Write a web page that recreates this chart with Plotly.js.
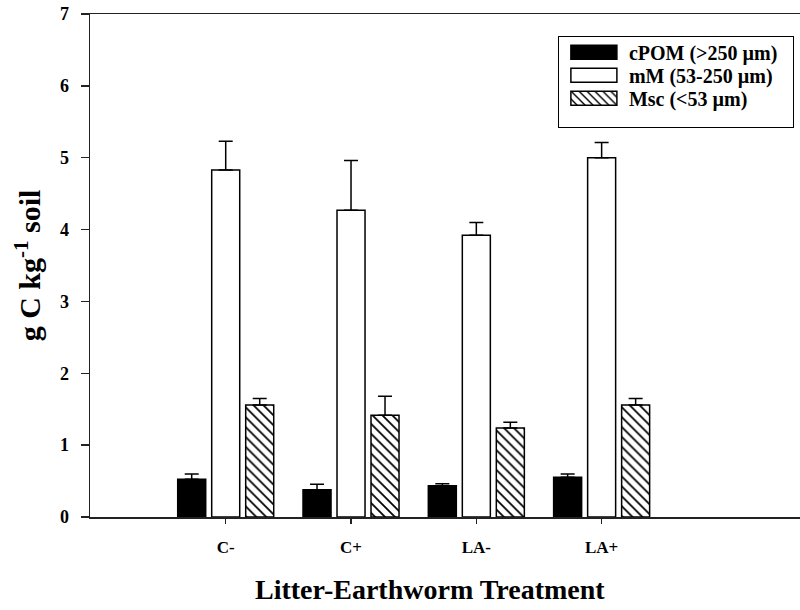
<!DOCTYPE html>
<html>
<head>
<meta charset="utf-8">
<script src="https://cdn.plot.ly/plotly-3.0.1.min.js"></script>
<style>html,body{margin:0;padding:0;background:#fff;}#chart{width:800px;height:610px;}</style>
</head>
<body>
<div id="chart"></div>
<script>
// Data
const treatments = ["C-", "C+", "LA-", "LA+"];
const seriesNames = ["cPOM (>250 µm)", "mM (53-250 µm)", "Msc (<53 µm)"];
const cPOM = [0.525, 0.38, 0.436, 0.552];
const cPOM_err = [0.075, 0.075, 0.028, 0.048];
const mM = [4.83, 4.27, 3.92, 5.00];
const mM_err = [0.40, 0.69, 0.18, 0.21];
const Msc = [1.56, 1.415, 1.24, 1.56];
const Msc_err = [0.09, 0.265, 0.08, 0.09];
const yTicks = [0, 1, 2, 3, 4, 5, 6, 7];

const FONT = "Liberation Serif, Times New Roman, serif";
const zeros = treatments.map(() => 0);

function errBar(arr) {
  return {type: 'data', symmetric: false, array: arr, arrayminus: zeros,
          color: '#000', thickness: 1.5, width: 7};
}

const traces = [
  {type: 'bar', name: seriesNames[0], x: treatments, y: cPOM,
   marker: {color: '#000', line: {color: '#000', width: 1.5}},
   error_y: errBar(cPOM_err)},
  {type: 'bar', name: seriesNames[1], x: treatments, y: mM,
   marker: {color: '#fff', line: {color: '#000', width: 1.5}},
   error_y: errBar(mM_err)},
  {type: 'bar', name: seriesNames[2], x: treatments, y: Msc,
   marker: {color: '#fff', line: {color: '#000', width: 1.5},
            pattern: {shape: '\\', size: 7, solidity: 0.25, fgcolor: '#000', bgcolor: '#fff'}},
   error_y: errBar(Msc_err)}
];

const layout = {
  width: 800, height: 610,
  margin: {l: 90, r: 0, t: 14, b: 93, pad: 0},
  paper_bgcolor: '#fff', plot_bgcolor: '#fff',
  font: {family: FONT, color: '#000'},
  barmode: 'group', bargap: 0.186, bargroupgap: 0.176,
  showlegend: true,
  legend: {x: 0.659, y: 0.956, xanchor: 'left', yanchor: 'top',
           bordercolor: '#000', borderwidth: 1, bgcolor: '#fff',
           font: {family: FONT, size: 20, color: '#000', weight: 'bold'},
           itemwidth: 60, tracegroupgap: 0},
  xaxis: {type: 'category', range: [-1.083, 4.583], showgrid: false, zeroline: false,
          showline: true, linecolor: '#222', linewidth: 1.5, mirror: true,
          ticks: 'outside', ticklen: 5, tickwidth: 1.5, tickcolor: '#222',
          tickfont: {family: FONT, size: 17, color: '#000', weight: 'bold'},
          ticklabelstandoff: 9},
  yaxis: {range: [0, 7], tickvals: yTicks, showgrid: false, zeroline: false,
          showline: true, linecolor: '#222', linewidth: 1.5,
          ticks: 'outside', ticklen: 8, tickwidth: 1.5, tickcolor: '#222',
          tickfont: {family: FONT, size: 18, color: '#000', weight: 'bold'},
          ticklabelstandoff: 8,
          title: {text: 'g C kg<sup>-1</sup> soil', standoff: 10,
                  font: {family: FONT, size: 30, color: '#000', weight: 'bold'}}},
  annotations: [{text: 'Litter-Earthworm Treatment', xref: 'paper', yref: 'paper',
                 x: (430 - 90) / 710, y: (517.5 - 590) / 503.5, xanchor: 'center', yanchor: 'middle',
                 showarrow: false,
                 font: {family: FONT, size: 28, color: '#000', weight: 'bold'}}]
};

Plotly.newPlot('chart', traces, layout, {displayModeBar: false, staticPlot: true}).then(function (gd) {
  // widen legend swatches to match the reference's long rectangles
  document.querySelectorAll('.legend .legendpoints path').forEach(function (p) {
    p.setAttribute('d', 'M-23,-7H23V7H-23Z');
  });
  // tighten legend rows and size the box like the reference
  const items = document.querySelectorAll('.legend .traces');
  items.forEach(function (g, i) {
    const tr = g.getAttribute('transform') || '';
    const m = tr.match(/translate\(\s*([-\d.]+)[ ,]+([-\d.]+)/);
    const x = m ? parseFloat(m[1]) : 0;
    g.setAttribute('transform', 'translate(' + x + ',' + (16 + 23 * i) + ')');
  });
  document.querySelectorAll('.legend rect.bg').forEach(function (r) {
    r.setAttribute('height', 91);
    r.setAttribute('width', 235);
  });
});
</script>
</body>
</html>
